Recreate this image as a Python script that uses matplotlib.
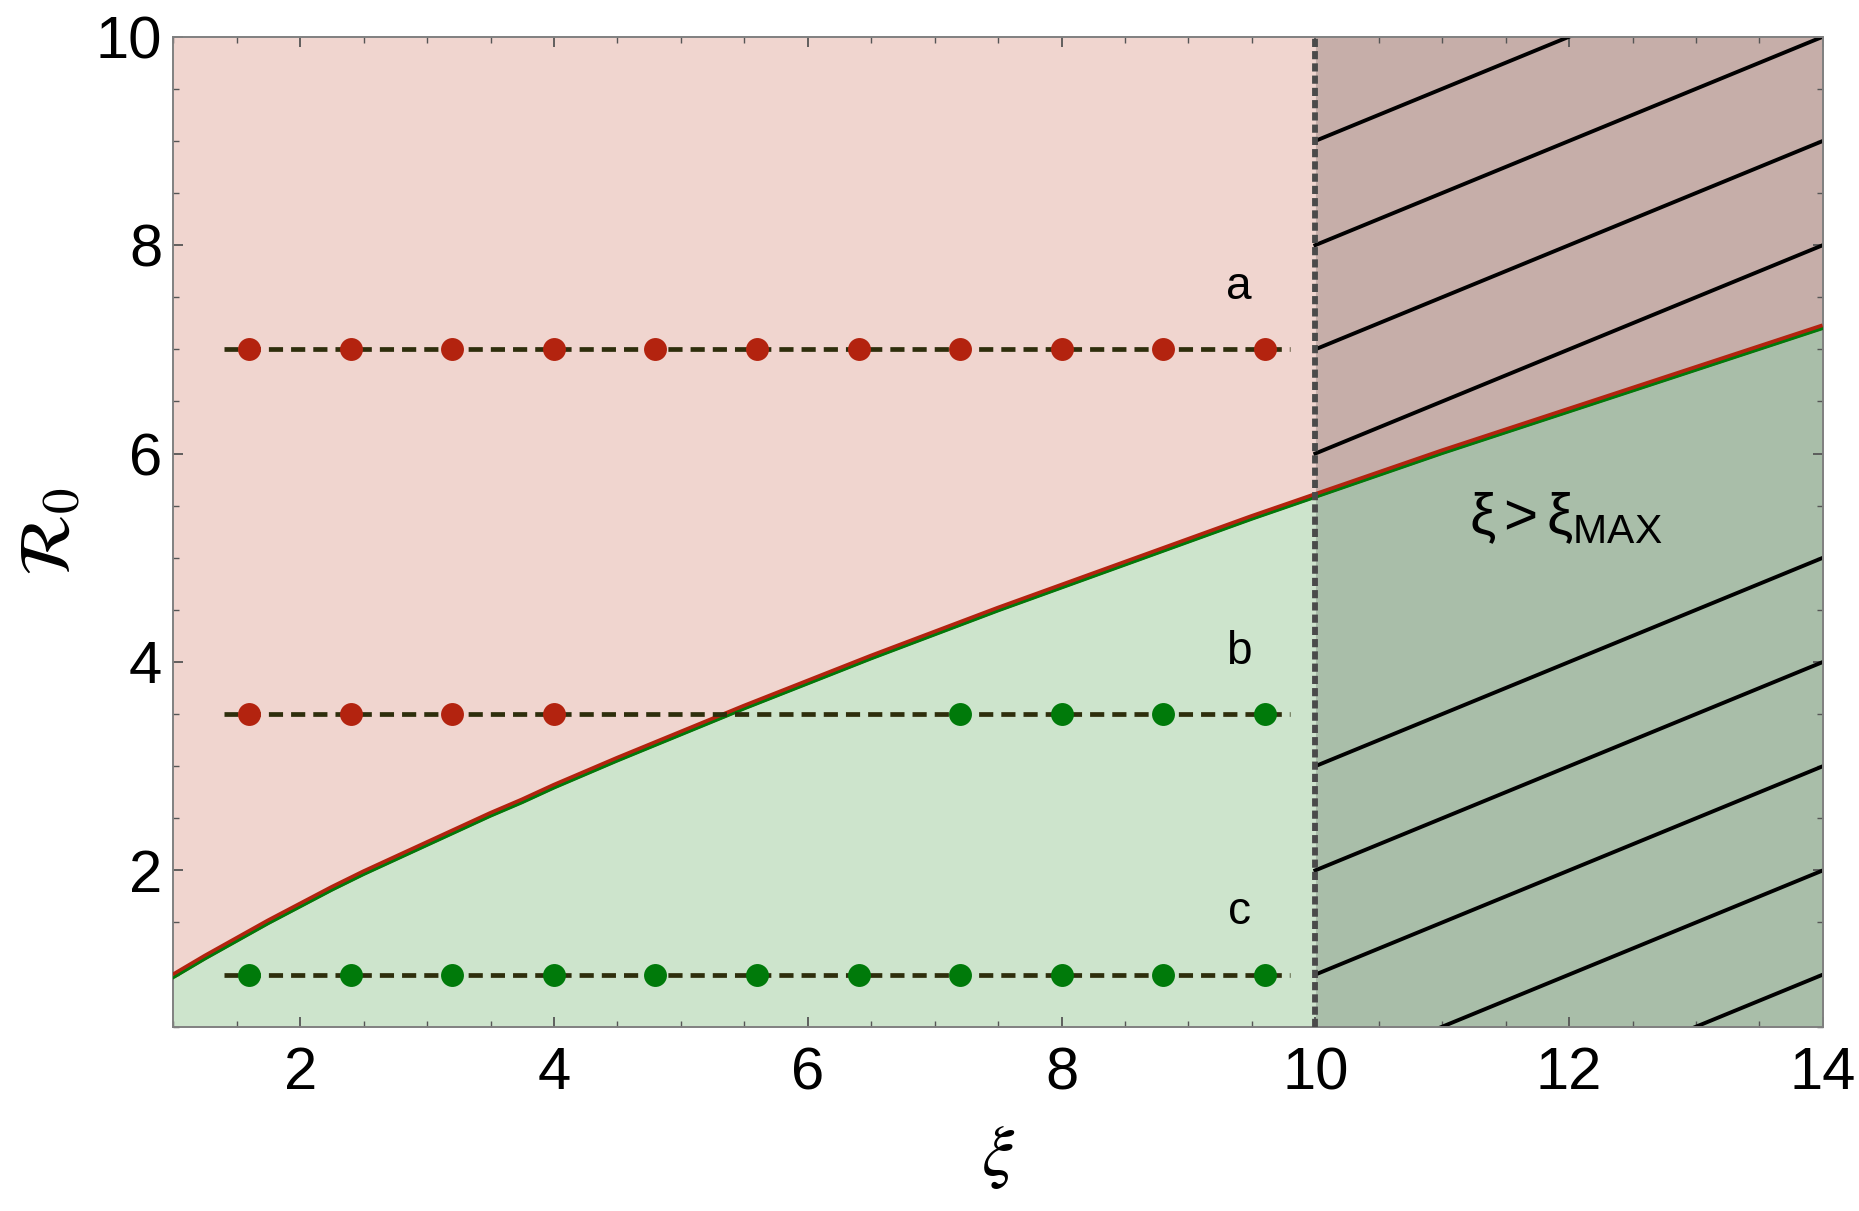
import numpy as np
import matplotlib
matplotlib.use("Agg")
import matplotlib.pyplot as plt
from matplotlib.transforms import offset_copy

plt.rcParams['font.family'] = ['Liberation Sans', 'DejaVu Sans']
plt.rcParams['mathtext.fontset'] = 'stix'

# threshold curve R0(xi)
xi_curve = np.array([1.0, 1.25, 1.5, 1.75, 2.0, 2.25, 2.5, 2.75, 3.0, 3.25, 3.5, 3.75,
                     4.0, 4.5, 5.0, 5.5, 6.0, 6.5, 7.0, 7.5, 8.0, 8.5, 9.0, 9.5,
                     10.0, 11.0, 12.0, 13.0, 14.0])
r0_curve = np.array([0.99, 1.17, 1.34, 1.51, 1.67, 1.83, 1.98, 2.12, 2.26, 2.40, 2.54, 2.67,
                     2.81, 3.07, 3.32, 3.57, 3.81, 4.05, 4.28, 4.51, 4.73, 4.95, 5.17, 5.39,
                     5.60, 6.02, 6.42, 6.82, 7.22])

xi_max = 10.0

# sampled points on the three horizontal scans
dots_x = [1.6, 2.4, 3.2, 4.0, 4.8, 5.6, 6.4, 7.2, 8.0, 8.8, 9.6]
row_a_y = 7.0
row_b_y = 3.5
row_c_y = 1.0
row_b_red_x = [1.6, 2.4, 3.2, 4.0]
row_b_green_x = [7.2, 8.0, 8.8, 9.6]
scan_start, scan_end = 1.4, 9.8

row_labels = ['a', 'b', 'c']
row_label_y = [7.6, 4.1, 1.6]
row_label_x = 9.4

# hatch offsets in the xi > xi_max region (lines R0 = 0.5*(xi-10) + c)
hatch_slope = 0.5
hatch_red = [6, 7, 8, 9]
hatch_green = [-1, 0, 1, 2, 3]

red = '#b3230f'
green = '#007a0a'
red_fill = '#f0d5cf'
green_fill = '#cde4cc'
red_dark = '#c6aea9'
green_dark = '#a9bea9'
dash_col = '#2e2e0c'

fig = plt.figure(figsize=(18.59, 12.11), dpi=100)
ax = fig.add_axes([0.0932, 0.1522, 0.8874, 0.8175])
ax.set_xlim(1, 14)
ax.set_ylim(0.5, 10)

left = xi_curve <= xi_max
right = xi_curve >= xi_max
ax.fill_between(xi_curve, r0_curve, 10, where=left, color=red_fill, lw=0)
ax.fill_between(xi_curve, 0.5, r0_curve, where=left, color=green_fill, lw=0)
ax.fill_between(xi_curve, r0_curve, 10, where=right, color=red_dark, lw=0)
ax.fill_between(xi_curve, 0.5, r0_curve, where=right, color=green_dark, lw=0)

# hatching
hx = np.array([xi_max, 14.0])
for c in hatch_red + hatch_green:
    ax.plot(hx, hatch_slope * (hx - xi_max) + c, color='black', lw=2.8, zorder=2)

# boundary curve: red with a thin green edge beneath
ax.plot(xi_curve, r0_curve, color=red, lw=4.4, zorder=3, solid_capstyle='butt')
ax.plot(xi_curve, r0_curve, color=green, lw=2.0, zorder=3,
        transform=offset_copy(ax.transData, fig=fig, x=0, y=-2.2, units='dots'))

# vertical xi_max line
ax.axvline(xi_max, color='#4a4a4a', lw=4.2, dashes=(1.4, 0.7), zorder=4)

# scan lines and dots
for y in [row_a_y, row_b_y, row_c_y]:
    ax.plot([scan_start, scan_end], [y, y], color=dash_col, lw=3.4,
            dashes=(3.0, 1.7), zorder=5)
ms = 16.5
ax.plot(dots_x, [row_a_y] * len(dots_x), 'o', color=red, ms=ms, mec='none', zorder=6)
ax.plot(row_b_red_x, [row_b_y] * len(row_b_red_x), 'o', color=red, ms=ms, mec='none', zorder=6)
ax.plot(row_b_green_x, [row_b_y] * len(row_b_green_x), 'o', color=green, ms=ms, mec='none', zorder=6)
ax.plot(dots_x, [row_c_y] * len(dots_x), 'o', color=green, ms=ms, mec='none', zorder=6)

for lab, y in zip(row_labels, row_label_y):
    ax.text(row_label_x, y, lab, fontsize=33, ha='center', va='center', zorder=7)

ax.text(11.97, 5.38, r'$\mathregular{\xi>\xi_{MAX}}$', fontsize=42,
        ha='center', va='center', zorder=7)

# axes styling
ax.set_xticks([2, 4, 6, 8, 10, 12, 14])
ax.set_yticks([2, 4, 6, 8, 10])
ax.set_xticks(np.arange(1, 14.01, 0.5), minor=True)
ax.set_yticks(np.arange(0.5, 10.01, 0.5), minor=True)
ax.tick_params(which='both', direction='in', top=True, right=True, color='#555555')
ax.tick_params(which='major', length=7, width=1.3, labelsize=43)
ax.tick_params(which='minor', length=4.5, width=1.0)
ax.tick_params(axis='x', which='major', pad=14)
ax.tick_params(axis='y', which='major', pad=8)
for s in ax.spines.values():
    s.set_color('#808080')
    s.set_linewidth(1.4)

ax.set_xlabel(r'$\xi$', fontsize=52, labelpad=16)
ax.set_ylabel(r'$\mathcal{R}_0$', fontsize=52, labelpad=8)

fig.savefig('out.png', dpi=100)
